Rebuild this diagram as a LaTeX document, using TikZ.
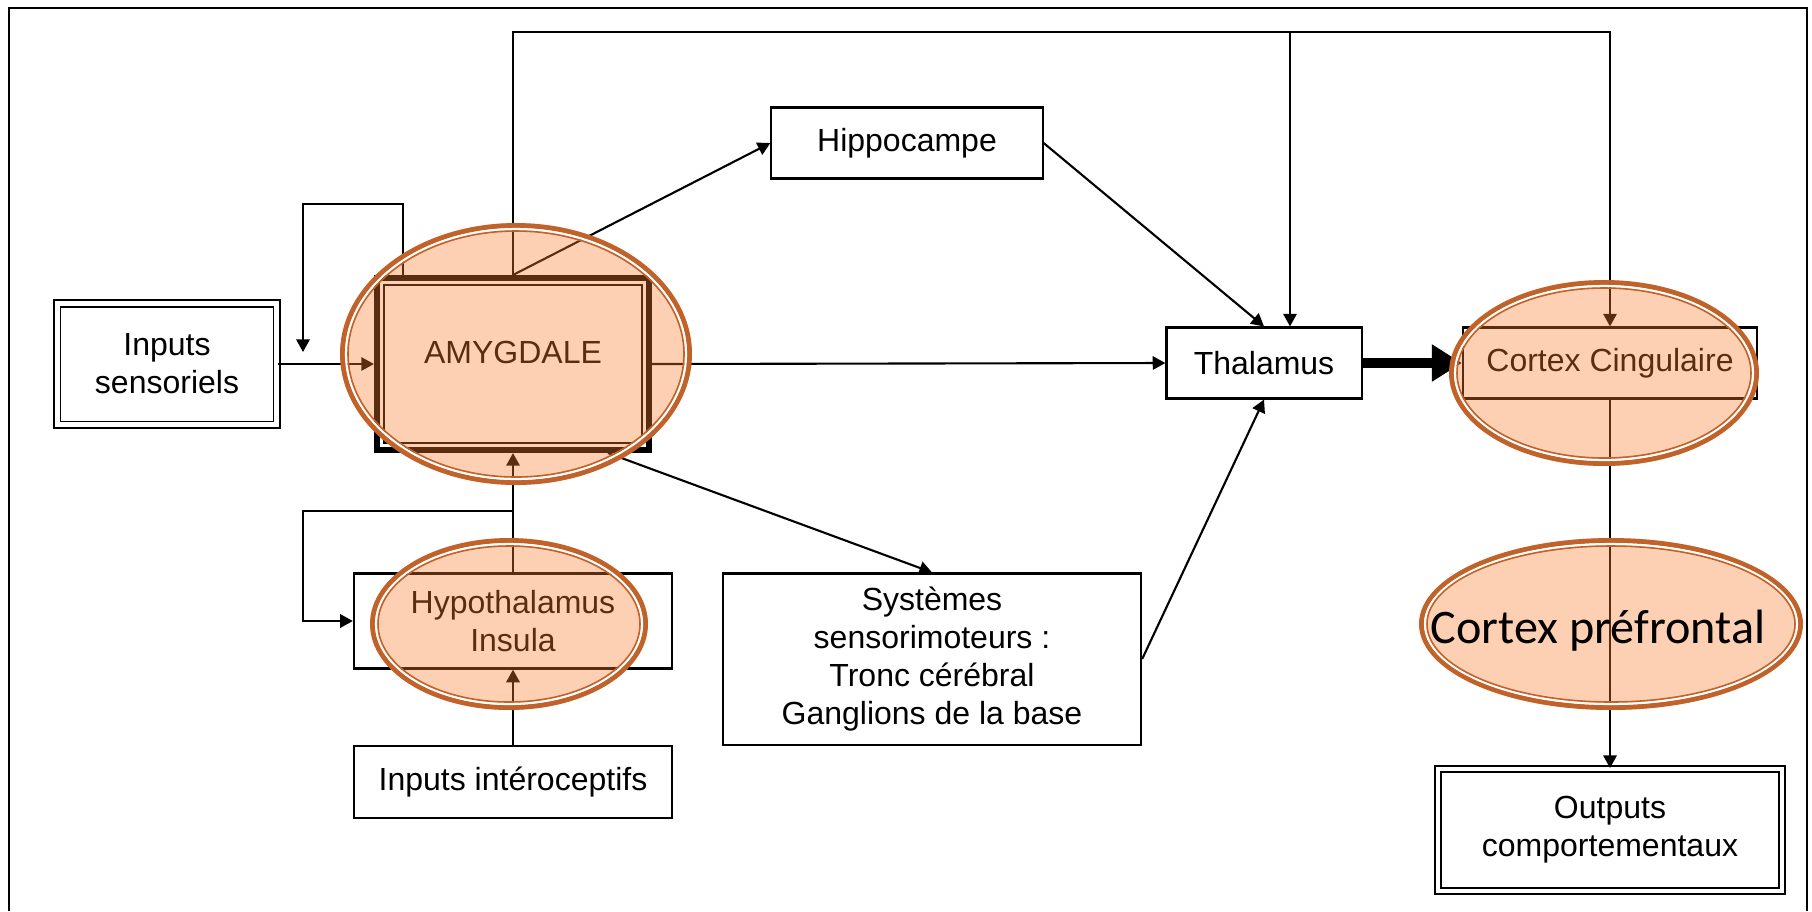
\documentclass[tikz,border=0pt]{standalone}
\usepackage{fontspec}
\setmainfont{Liberation Sans}
\newfontfamily\calibri{Carlito}
\usetikzlibrary{arrows.meta}
\definecolor{voile}{RGB}{249,126,49}
\definecolor{bordure}{RGB}{192,98,42}

\begin{document}
\begin{tikzpicture}[x=0.01cm, y=-0.01cm, line width=0.6pt,
    every node/.style={font=\fontsize{9.1pt}{10.8pt}\selectfont, align=center, inner sep=0pt},
    boite/.style={draw, line width=0.6pt},
    doubleboite/.style={draw, line width=0.55pt, double, double distance=1.2pt},
    fleche/.style={-{Triangle[length=3.6pt, width=3.8pt]}}]
    \useasboundingbox (0,0) rectangle (1812,911);
    \draw[line width=0.8pt] (9,911) -- (9,8) -- (1807,8) -- (1807,911);

    \node[doubleboite, minimum width=2.19cm, minimum height=1.21cm] (sens) at (167,364) {Inputs\\sensoriels};
    \node[draw, line width=1.7pt, minimum width=2.72cm, minimum height=1.72cm] (amyg) at (513,364) {\raisebox{0.24cm}{AMYGDALE}};
    \draw[line width=0.45pt] ([shift={(10,-10)}]amyg.south west) rectangle ([shift={(-10,10)}]amyg.north east);
    \node[boite, minimum width=2.71cm, minimum height=0.71cm] (hippo) at (907,143) {Hippocampe};
    \node[boite, minimum width=1.95cm, minimum height=0.71cm] (thal) at (1264,363) {Thalamus};
    \node[boite, minimum width=2.94cm, minimum height=0.71cm] (cc) at (1610,363) {Cortex Cingulaire};
    \node[boite, minimum width=3.18cm, minimum height=0.95cm] (hypo) at (513,621) {Hypothalamus\\Insula};
    \node[boite, minimum width=3.18cm, minimum height=0.72cm] (intero) at (513,782) {Inputs intéroceptifs};
    \node[boite, minimum width=4.18cm, minimum height=1.71cm] (syst) at (932,659) {Systèmes\\sensorimoteurs :\\Tronc cérébral\\Ganglions de la base};
    \node[doubleboite, minimum width=3.44cm, minimum height=1.22cm] (outp) at (1610,830) {Outputs\\comportementaux};

    \coordinate (hautG) at (513,32);
    \coordinate (hautT) at (1290,32);
    \coordinate (hautD) at (1610,32);
    \coordinate (boucleH) at (303,204);
    \coordinate (boucleB) at (303,352);
    \coordinate (embr) at (513,511);
    \coordinate (embrG) at (303,511);

    \draw[fleche] (sens.east) -- (amyg.west);
    \draw[fleche] (amyg.east) -- (thal.west);
    \draw[fleche] (amyg.north) -- (hippo.west);
    \draw[fleche] (hippo.east) -- (thal.north);
    \draw[fleche] ([xshift=0.95cm]amyg.south) -- (syst.north);
    \draw[fleche] (syst.east) -- (thal.south);
    \draw[line width=2.85pt, -{Triangle[length=8.5pt, width=10pt]}] (thal.east) -- (cc.west);
    \draw[fleche] (cc.south) -- (outp.north);
    \draw[fleche] (hypo.north) -- (amyg.south);
    \draw[fleche] (intero.north) -- (hypo.south);
    \draw[fleche] (embr) -- (embrG) |- (hypo.west);
    \draw[fleche] ([xshift=-1.1cm]amyg.north) |- (boucleH) -- (boucleB);
    \draw[fleche] (amyg.north) -- (hautG) -- (hautD) -- (cc.north);
    \draw[fleche] (hautT) -- (hautT |- thal.north);

    \foreach \cx/\cy/\rx/\ry in {516/354/176/131, 509/624/139/86, 1604/373/155/93, 1611/624/192/86} {
        \fill[voile, fill opacity=0.365] (\cx,\cy) ellipse [x radius=\rx, y radius=\ry];
        \draw[bordure, line width=1.4pt] (\cx,\cy) ellipse [x radius=\rx-2.5, y radius=\ry-2.5];
        \draw[white, line width=0.6pt] (\cx,\cy) ellipse [x radius=\rx-6, y radius=\ry-6];
        \draw[bordure, line width=0.45pt] (\cx,\cy) ellipse [x radius=\rx-8, y radius=\ry-8];
    }
    \node[font=\calibri\fontsize{13.7pt}{16pt}\selectfont, anchor=base] (pref) at (1598,643) {Cortex préfrontal};
\end{tikzpicture}
\end{document}
